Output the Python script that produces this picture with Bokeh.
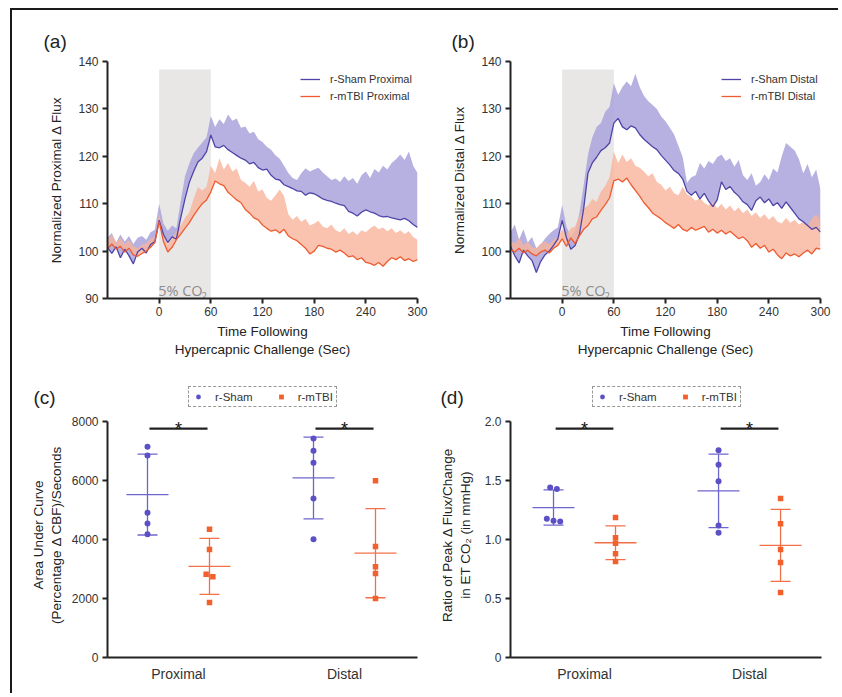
import numpy as np
from bokeh.plotting import figure
from bokeh.models import Range1d, FixedTicker, Legend, LegendItem, Label
from bokeh.layouts import column, row
from bokeh.embed import file_html
from bokeh.resources import INLINE
from bokeh.core.properties import value

# ---------------- data: time courses (every 5 s) ----------------
time_s = list(range(-60, 301, 5))

sham_prox_mean = [100.8, 99.5, 100.9, 98.6, 100.4, 99.0, 97.3, 99.8, 100.6, 99.6, 101.4, 102.0,
                  106.5, 103.5, 101.8, 103.0, 102.5, 107.0, 111.0, 114.5, 116.8, 118.8, 119.6, 121.0,
                  124.5, 122.0, 121.8, 122.3, 121.4, 120.8, 120.2, 119.6, 119.2, 118.4, 118.7, 117.6,
                  117.1, 117.3, 116.0, 115.2, 115.0, 114.0, 113.6, 113.2, 112.7, 112.6, 111.8, 112.3,
                  112.1, 111.6, 111.0, 110.7, 110.5, 110.1, 109.8, 109.6, 108.4, 108.0, 107.4, 108.2,
                  108.7, 108.3, 108.0, 107.5, 107.2, 107.3, 107.0, 106.8, 106.6, 106.9, 106.4, 105.6,
                  105.0]
sham_prox_upper = [102.8, 103.8, 101.8, 103.5, 102.0, 103.2, 101.5, 102.8, 103.2, 102.4, 104.0, 104.5,
                   110.0, 105.8, 104.3, 105.4, 104.8, 110.5, 115.8, 118.5, 120.6, 121.8, 122.9, 124.0,
                   128.5, 126.2, 127.8, 126.8, 128.8, 127.5, 128.0, 126.0, 126.3, 124.8, 125.2, 123.6,
                   123.0, 122.0, 121.4, 120.2, 119.5, 118.0, 116.5, 115.4, 115.0, 116.4, 117.5, 116.8,
                   117.2, 117.6, 116.6, 115.8, 115.0, 115.3, 114.6, 115.8, 114.8, 115.4, 114.2, 116.0,
                   116.8, 115.4, 117.3, 116.6, 118.0, 117.2, 118.6, 119.4, 120.4, 119.2, 121.0, 118.0,
                   116.5]
mtbi_prox_mean = [100.5, 101.5, 100.4, 101.0, 99.8, 100.6, 99.2, 98.9, 99.5, 100.0, 100.8, 101.8,
                  106.2, 102.0, 99.8, 100.8, 102.4, 103.6, 104.8, 106.0, 107.5, 108.8, 110.0, 110.8,
                  112.5, 114.8, 114.2, 113.8, 112.4, 111.6, 110.8, 110.2, 108.8, 108.0, 107.0, 106.6,
                  105.5, 104.8, 104.2, 104.5, 103.8, 104.6, 103.2, 102.6, 102.2, 101.4, 100.6, 99.4,
                  100.0, 101.2, 101.0, 100.6, 100.4, 99.8, 100.2, 99.6, 98.8, 99.0, 98.2, 98.6,
                  97.6, 97.4, 97.0, 97.6, 96.8, 97.8, 98.6, 98.2, 98.8, 98.0, 98.4, 97.8,
                  98.2]
mtbi_prox_upper = [102.5, 103.5, 101.8, 102.8, 101.5, 102.3, 101.0, 100.6, 101.4, 101.6, 102.6, 103.0,
                   108.0, 103.6, 101.4, 102.6, 104.2, 105.4, 107.0, 108.2, 111.0, 113.5, 112.8, 113.6,
                   118.0, 116.5, 119.6, 117.2, 118.6, 116.8, 117.4, 115.0, 114.4, 113.6, 114.8, 112.6,
                   113.0, 111.2, 110.6, 111.8, 113.0, 111.6, 107.8, 106.6, 107.4, 106.2, 106.8, 105.4,
                   105.8, 106.4, 105.2, 104.8, 105.6, 104.4, 104.0, 104.8, 103.6, 104.2, 103.4, 104.4,
                   104.0, 104.8, 105.4, 104.6, 105.0, 104.2, 104.8, 103.8, 104.4, 103.6, 104.2, 103.0,
                   102.4]

sham_dist_mean = [101.0, 99.0, 97.5, 100.2, 99.0, 98.0, 95.5, 97.8, 99.2, 100.0, 101.2, 102.6,
                  106.5, 102.8, 100.4, 101.2, 103.5, 109.0, 116.5, 118.6, 119.8, 121.2, 121.8, 122.8,
                  127.0, 128.0, 126.2, 125.6, 126.4, 126.0, 124.6, 123.6, 122.8, 122.0, 121.4, 120.2,
                  119.2, 118.2, 117.0, 116.4, 115.2, 112.6, 111.8, 112.6, 111.0, 112.2, 110.6, 109.4,
                  110.8, 114.6, 113.0, 113.6, 112.4, 111.6, 110.4, 109.8, 108.6, 110.6, 111.4, 110.2,
                  111.0, 109.6, 110.2, 109.0, 110.4, 109.2, 108.0, 106.8, 106.2, 105.4, 104.6, 105.0,
                  104.0]
sham_dist_upper = [104.0, 105.6, 102.4, 104.6, 101.8, 103.0, 100.6, 101.4, 102.6, 103.6, 104.4, 105.0,
                   109.8, 105.2, 103.0, 104.2, 108.0, 114.0, 120.4, 124.0, 126.2, 127.0, 129.4, 130.4,
                   135.4, 133.0, 134.6, 135.8, 134.8, 137.4, 134.6, 132.8, 131.6, 130.8, 130.0, 128.4,
                   127.4, 126.0, 124.6, 122.2, 119.8, 114.4, 115.6, 116.0, 118.6, 117.4, 119.0, 118.4,
                   119.8, 120.4, 119.0, 119.6, 117.8, 119.2, 116.0, 115.0, 116.4, 113.8, 114.6, 116.2,
                   115.0, 117.4, 116.6, 120.0, 122.8, 122.0, 121.2, 119.4, 116.4, 118.4, 115.6, 117.2,
                   113.0]
mtbi_dist_mean = [100.4, 99.8, 100.6, 99.6, 100.2, 99.4, 99.0, 99.8, 100.2, 99.6, 100.6, 101.2,
                  102.6, 101.0, 102.8, 101.6, 103.2, 104.6, 105.4, 106.8, 107.2, 108.6, 109.8, 111.2,
                  114.8, 115.2, 114.6, 115.4, 114.0, 112.8, 111.6, 110.2, 109.2, 108.0, 107.4, 106.8,
                  106.0, 105.4, 104.8, 105.6, 104.6, 104.2, 105.0, 104.4, 104.8, 105.2, 104.0, 104.6,
                  103.8, 104.4, 103.6, 104.2, 103.4, 102.6, 103.0, 102.2, 100.8, 101.6, 100.6, 101.2,
                  99.8, 100.4, 99.2, 98.4, 99.6, 99.0, 99.4, 98.8, 99.6, 100.2, 99.4, 100.6,
                  100.4]
mtbi_dist_upper = [102.2, 101.6, 102.8, 101.2, 102.0, 100.8, 100.6, 101.6, 102.0, 101.4, 102.4, 103.0,
                   104.6, 103.4, 104.8, 105.2, 107.4, 109.0, 109.6, 111.0, 110.4, 112.6, 113.8, 115.6,
                   121.0, 118.6, 120.4, 118.8, 119.6, 118.0, 117.6, 116.8, 115.8, 116.4, 114.6, 114.0,
                   112.8, 113.6, 112.2, 111.8, 113.6, 112.0, 111.4, 110.6, 111.2, 110.2, 109.6, 110.4,
                   109.0, 110.0, 108.8, 109.6, 108.4, 109.2, 108.0, 108.8, 107.4, 108.2, 107.0, 107.8,
                   106.6, 107.4, 106.2, 105.8, 107.0, 106.0, 106.6, 105.6, 106.2, 105.4, 106.8, 107.8,
                   106.6]

co2_window = (0, 60)
co2_box_top = 138.3

# ---------------- data: individual animals ----------------
categories = ["Proximal", "Distal"]
auc_sham = {"Proximal": [7142, 6848, 4904, 4543, 4181], "Distal": [7424, 7006, 6599, 5390, 4012]}
auc_mtbi = {"Proximal": [4350, 3661, 2825, 2735, 1865], "Distal": [5989, 3763, 3074, 2848, 2000]}
ratio_sham = {"Proximal": [1.441, 1.427, 1.175, 1.153, 1.158], "Distal": [1.757, 1.633, 1.494, 1.119, 1.057]}
ratio_mtbi = {"Proximal": [1.186, 1.014, 0.969, 0.879, 0.814], "Distal": [1.347, 1.133, 0.915, 0.805, 0.551]}
sig_auc = 7760
sig_ratio = 1.94

# ---------------- style ----------------
SHAM_LINE = "#4f45a8"
SHAM_BAND = "#a9a3da"
MTBI_LINE = "#ef5b30"
MTBI_BAND = "#f8b49c"
SHAM_PT = "#5b50c6"
MTBI_PT = "#f2602e"
SHAM_ERR = "#6e66cc"
MTBI_ERR = "#f27048"
AX = "#222222"
FONT = "Liberation Sans"


def style(p):
    for ax in (p.xaxis[0], p.yaxis[0]):
        ax.axis_line_color = AX
        ax.axis_line_width = 2
        ax.major_tick_line_color = AX
        ax.major_tick_line_width = 2
        ax.major_tick_out = 5
        ax.major_tick_in = 0
        ax.minor_tick_line_color = None
        ax.major_label_text_font = FONT
        ax.major_label_text_font_size = "12px"
        ax.major_label_text_color = "#333333"
        ax.axis_label_text_font = FONT
        ax.axis_label_text_font_size = "13.5px"
        ax.axis_label_text_font_style = "normal"
        ax.axis_label_text_color = "#222222"
    p.grid.visible = False
    p.outline_line_color = None
    p.background_fill_color = "white"
    p.border_fill_color = "white"


def header(x0, y0, width, height, letters, legend_boxes=()):
    """A full-width strip in page-pixel coordinates holding panel letters and group legends."""
    h = figure(width=width, height=height, x_range=Range1d(x0, x0 + width), y_range=Range1d(y0 + height, y0),
               x_axis_type=None, y_axis_type=None, output_backend="svg", toolbar_location=None,
               min_border_left=0, min_border_right=0, min_border_top=0, min_border_bottom=0)
    h.grid.visible = False
    h.outline_line_color = None
    h.text(x=[l[1][0] for l in letters], y=[l[1][1] for l in letters], text=[l[0] for l in letters],
           text_font=value(FONT), text_font_size="19px", text_color="#222222",
           text_baseline="middle", text_align="left")
    for bx, bb in legend_boxes:
        rs = h.scatter(x=[x0 - 50], y=[y0 - 50], marker="circle", size=6, fill_color=SHAM_PT, line_color=None)
        rm = h.scatter(x=[x0 - 50], y=[y0 - 50], marker="square", size=5.5, fill_color=MTBI_PT, line_color=None)
        leg = Legend(items=[LegendItem(label="r-Sham", renderers=[rs]), LegendItem(label="r-mTBI", renderers=[rm])],
                     location=(bx - x0, (y0 + height) - bb), orientation="horizontal",
                     background_fill_color="white", background_fill_alpha=1,
                     border_line_color="#333333", border_line_dash="5 3", border_line_width=1.5,
                     glyph_width=12, glyph_height=13, label_height=13, label_standoff=11,
                     spacing=22, padding=3, margin=0,
                     label_text_font=FONT, label_text_font_size="11.5px", label_text_color="#333333")
        h.add_layout(leg)
    return h


def time_panel(ylabel, names, sm, su, mm, mu, width, left, frame_page, legend_px):
    rx, ry = (-60, 300), (90, 140)
    fw, fh = 310, 237
    top = 7
    p = figure(width=width, height=top + fh + 62, x_range=Range1d(*rx), y_range=Range1d(*ry),
               output_backend="svg", toolbar_location=None,
               min_border_left=left, min_border_right=width - left - fw,
               min_border_top=top, min_border_bottom=62)
    style(p)
    p.xaxis.ticker = FixedTicker(ticks=[0, 60, 120, 180, 240, 300])
    p.yaxis.ticker = FixedTicker(ticks=[90, 100, 110, 120, 130, 140])
    p.xaxis.axis_label = "Time Following\nHypercapnic Challenge (Sec)"
    p.yaxis.axis_label = ylabel
    p.xaxis.major_label_standoff = 3
    p.xaxis.axis_label_standoff = 5
    p.yaxis.major_label_standoff = 4
    p.yaxis.axis_label_standoff = 11

    p.quad(left=co2_window[0], right=co2_window[1], bottom=ry[0], top=co2_box_top,
           fill_color="#e9e7e6", line_color=None)
    p.text(x=[co2_window[0]], y=[ry[0]], text=["5% CO"], text_font=value("Open Sans"),
           text_font_size="14.5px", text_color="#8c8c8c", text_baseline="alphabetic",
           text_align="left", x_offset=-1, y_offset=-8)
    p.text(x=[co2_window[0]], y=[ry[0]], text=["2"], text_font=value("Open Sans"),
           text_font_size="10px", text_color="#8c8c8c", text_baseline="alphabetic",
           text_align="left", x_offset=42, y_offset=-3)

    p.varea(x=time_s, y1=sm, y2=su, fill_color=SHAM_BAND, fill_alpha=0.85)
    p.varea(x=time_s, y1=mm, y2=mu, fill_color=MTBI_BAND, fill_alpha=0.8)
    r1 = p.line(time_s, sm, line_color=SHAM_LINE, line_width=1.3)
    r2 = p.line(time_s, mm, line_color=MTBI_LINE, line_width=1.3)

    L, T = frame_page
    leg = Legend(items=[LegendItem(label=names[0], renderers=[r1]),
                        LegendItem(label=names[1], renderers=[r2])],
                 location=(legend_px[0] - L, (T + fh) - legend_px[1]),
                 orientation="vertical", background_fill_alpha=0, border_line_alpha=0,
                 glyph_width=20, glyph_height=14, label_height=14, label_standoff=10,
                 spacing=3, padding=0, margin=0,
                 label_text_font=FONT, label_text_font_size="11px", label_text_color="#333333")
    p.add_layout(leg)
    return p


def dodge(vals, px_per_unit, thresh=5.0, step=6.7):
    vals = np.asarray(vals, dtype=float)
    order = np.argsort(vals)[::-1]
    clusters = []
    for i in order:
        if clusters and abs(vals[clusters[-1][-1]] - vals[i]) * px_per_unit < thresh:
            clusters[-1].append(i)
        else:
            clusters.append([i])
    off = np.zeros(len(vals))
    for c in clusters:
        n = len(c)
        for k, i in enumerate(c):
            off[i] = (k - (n - 1) / 2) * step
    return off


def dot_panel(ylabel, sham, mtbi, ymax, yticks, sig_y, width, left, fw, rx, label_standoff, fmt=None):
    axis_px = 236                     # pixel height of the 0..ymax axis
    top, fh, bottom = 2, 245, 30      # frame a bit taller than the axis to hold the star
    ytop = ymax * fh / axis_px
    ry = (0, ytop)
    p = figure(width=width, height=top + fh + bottom, x_range=Range1d(*rx), y_range=Range1d(*ry),
               output_backend="svg", toolbar_location=None,
               min_border_left=left, min_border_right=width - left - fw,
               min_border_top=top, min_border_bottom=bottom)
    style(p)
    p.yaxis.bounds = (0, ymax)
    p.yaxis.ticker = FixedTicker(ticks=yticks)
    if fmt:
        p.yaxis.major_label_overrides = fmt
    p.xaxis.ticker = FixedTicker(ticks=[1, 2])
    p.xaxis.major_label_overrides = {1: categories[0], 2: categories[1]}
    p.xaxis.major_tick_line_color = None
    p.xaxis.major_tick_out = 0
    p.xaxis.major_label_text_font_size = "14px"
    p.xaxis.major_label_standoff = 8
    p.yaxis.axis_label = ylabel
    p.yaxis.major_label_standoff = 4
    p.yaxis.axis_label_standoff = label_standoff

    upx = fw / (rx[1] - rx[0])       # px per x unit
    vpx = fh / ytop                  # px per y unit
    off = 31 / upx
    mean_hw, cap_hw = 21 / upx, 10 / upx

    pts = {"sham": ([], []), "mtbi": ([], [])}
    for ci, cat in enumerate(categories):
        xc = ci + 1
        for key, data, sgn, col in (("sham", sham, -1, SHAM_ERR), ("mtbi", mtbi, 1, MTBI_ERR)):
            v = np.asarray(data[cat], dtype=float)
            m, sd = v.mean(), v.std(ddof=1)
            x = xc + sgn * off
            p.segment(x0=[x - mean_hw], x1=[x + mean_hw], y0=[m], y1=[m], line_color=col, line_width=1.3)
            p.segment(x0=[x], x1=[x], y0=[m - sd], y1=[m + sd], line_color=col, line_width=1.3)
            p.segment(x0=[x - cap_hw, x - cap_hw], x1=[x + cap_hw, x + cap_hw],
                      y0=[m - sd, m + sd], y1=[m - sd, m + sd], line_color=col, line_width=1.3)
            d = dodge(v, vpx) / upx
            pts[key][0].extend(list(x + d))
            pts[key][1].extend(list(v))
        p.segment(x0=[xc - 0.175], x1=[xc + 0.175], y0=[sig_y], y1=[sig_y], line_color=AX, line_width=2.2)
        p.add_layout(Label(x=xc, y=sig_y, text="*", text_font=FONT, text_font_size="18px",
                           text_color="#111111", text_align="center", text_baseline="middle"))

    p.scatter(pts["sham"][0], pts["sham"][1], marker="circle", size=6, fill_color=SHAM_PT, line_color=None)
    p.scatter(pts["mtbi"][0], pts["mtbi"][1], marker="square", size=5.5, fill_color=MTBI_PT, line_color=None)
    return p


# page layout: content origin at (12, 10)
ht = header(12, 10, 822, 44, [("(a)", (43, 41)), ("(b)", (451, 41))])
pa = time_panel("Normalized Proximal \u0394 Flux", ["r-Sham Proximal", "r-mTBI Proximal"],
                sham_prox_mean, sham_prox_upper, mtbi_prox_mean, mtbi_prox_upper,
                418, 95, (107, 61), (300, 103))
pb = time_panel("Normalized Distal \u0394 Flux", ["r-Sham Distal", "r-mTBI Distal"],
                sham_dist_mean, sham_dist_upper, mtbi_dist_mean, mtbi_dist_upper,
                404, 80, (510, 61), (721, 103))

hm = header(12, 360, 822, 50, [("(c)", (33, 397)), ("(d)", (440, 397))],
            legend_boxes=[(188, 407), (592, 407)])
pc = dot_panel("Area Under Curve\n(Percentage \u0394 CBF)/Seconds",
               auc_sham, auc_mtbi, 8000, [0, 2000, 4000, 6000, 8000], sig_auc,
               418, 95, 310, (0.5723, 2.4398), 5)
pd_ = dot_panel("Ratio of Peak \u0394 Flux/Change\nin ET CO\u2082 (in mmHg)",
                ratio_sham, ratio_mtbi, 2.0, [0, 0.5, 1.0, 1.5, 2.0], sig_ratio,
                404, 80, 311, (0.5515, 2.436), 9,
                fmt={0: "0", 0.5: "0.5", 1.0: "1.0", 1.5: "1.5", 2.0: "2.0"})

layout = column(ht, row(pa, pb), hm, row(pc, pd_),
                width=828, height=685,
                styles={"border-top": "2px solid #1a1a1a", "border-left": "2px solid #1a1a1a",
                        "margin-left": "10px", "margin-top": "8px"})

open("out.html", "w").write(file_html(layout, INLINE))
